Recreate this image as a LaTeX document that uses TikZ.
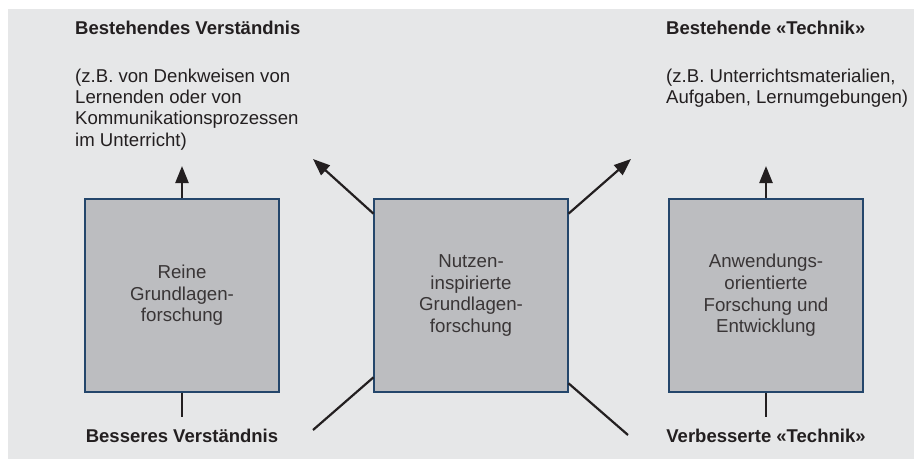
\documentclass[tikz,border=0pt]{standalone}
\usepackage{fontspec}
\setmainfont{Liberation Sans}
\usetikzlibrary{arrows.meta}
\definecolor{bggrey}{HTML}{E6E7E8}
\definecolor{boxgrey}{HTML}{BCBDC0}
\definecolor{boxline}{HTML}{24466B}
\definecolor{ink}{HTML}{231F20}

\begin{document}
\begin{tikzpicture}[x=1pt, y=-1pt,
	feld/.style={draw=boxline, line width=1.1pt, fill=boxgrey, minimum width=194pt, minimum height=193pt,
		inner sep=0pt, align=center, text=ink!90, font=\fontsize{18.7}{21.6}\selectfont},
	titel/.style={inner sep=0pt, text=ink, font=\bfseries\fontsize{18.5}{21}\selectfont},
	erkl/.style={inner sep=0pt, anchor=north west, align=left, text=ink, font=\fontsize{18.6}{21.4}\selectfont},
	pfeil/.style={line width=2.4pt, draw=ink, -{Triangle[length=17pt,width=13pt]}},
	linie/.style={line width=2.4pt, draw=ink}]
			%%%%% START %%%%%
			
			\useasboundingbox (0, 0) rectangle (914, 460);
			\fill[bggrey] (8, 9) rectangle (914, 459);
			
			% die drei Felder
			\node[feld] (rein) at (182, 295.5) {Reine\\Grundlagen-\\forschung};
			\node[feld] (nutz) at (471, 295.5) {Nutzen-\\inspirierte\\Grundlagen-\\forschung};
			\node[feld] (anw) at (766, 295.5) {Anwendungs-\\orientierte\\Forschung und\\Entwicklung};
			
			% Texte oben
			\node[titel, anchor=base west] (bestv) at (75, 35) {Bestehendes Verständnis};
			\node[erkl] (bspv) at (75, 68.5) {(z.B. von Denkweisen von\\Lernenden oder von\\Kommunikationsprozessen\\im Unterricht)};
			\node[titel, anchor=base west] (bestt) at (666, 35) {Bestehende «Technik»};
			\node[erkl] (bspt) at (666, 68.5) {(z.B. Unterrichtsmaterialien,\\Aufgaben, Lernumgebungen)};
			
			% Texte unten
			\node[titel, anchor=base] (bessv) at (182, 442) {Besseres Verständnis};
			\node[titel, anchor=base] (verbt) at (766, 442) {Verbesserte «Technik»};
			
			\coordinate (reinoben) at (182, 166);
			\coordinate (reinunten) at (182, 417);
			\coordinate (anwoben) at (766, 166);
			\coordinate (anwunten) at (766, 417);
			\coordinate (nutzol) at (313, 159);
			\coordinate (nutzor) at (631, 159);
			\coordinate (nutzul) at (313, 430);
			\coordinate (nutzur) at (628, 435);
			
			\draw[pfeil] (rein.north) -- (reinoben);
			\draw[linie] (rein.south) -- (reinunten);
			\draw[pfeil] (anw.north) -- (anwoben);
			\draw[linie] (anw.south) -- (anwunten);
			
			\draw[pfeil, line width=2.2pt] (nutz.140) -- (nutzol);
			\draw[pfeil, line width=2.2pt] (nutz.40) -- (nutzor);
			\draw[linie, line width=2.2pt] (nutz.220) -- (nutzul);
			\draw[linie, line width=2.2pt] (nutz.318) -- (nutzur);
			
			%%%%% END %%%%%
\end{tikzpicture}
\end{document}
